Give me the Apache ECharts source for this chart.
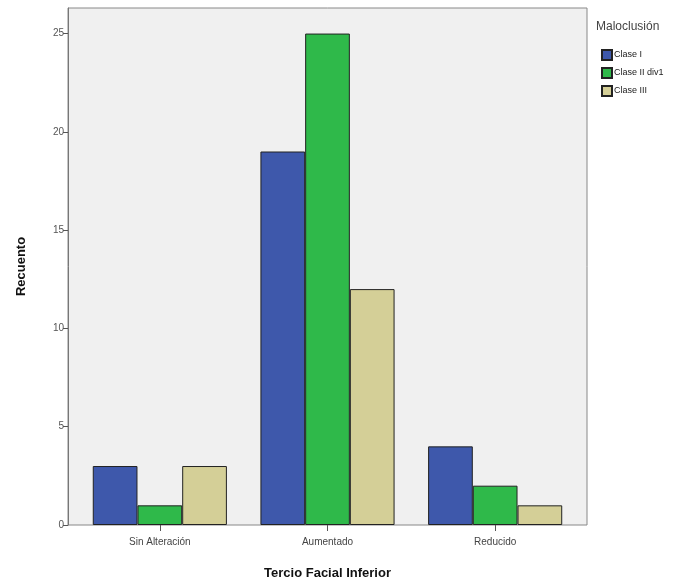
<!DOCTYPE html>
<html>
<head>
    <meta charset="utf-8">
    <title>Tercio Facial Inferior</title>
    <script src="https://cdn.jsdelivr.net/npm/echarts@6/dist/echarts.min.js"></script>
    <style>
        body { margin: 0; background: #fff; }
    </style>
</head>
<body>
    <div id="chart" style="width: 686px;height:582px;"></div>
    <script type="text/javascript">
        // datos
        var categorias = ['Sin Alteración', 'Aumentado', 'Reducido'];
        var claseI = [3, 19, 4];
        var claseIIdiv1 = [1, 25, 2];
        var claseIII = [3, 12, 1];
        var yTicks = [0, 5, 10, 15, 20, 25];

        var fuente = 'Liberation Sans, Arial, sans-serif';
        var chart = echarts.init(document.getElementById('chart'));

        function serie(nombre, datos, color) {
            return {
                name: nombre,
                type: 'bar',
                xAxisIndex: 0,
                yAxisIndex: 0,
                data: datos,
                barGap: 0,
                barCategoryGap: '20%',
                itemStyle: { color: color, borderColor: '#222', borderWidth: 1 },
                emphasis: { disabled: true }
            };
        }

        chart.setOption({
            animation: false,
            textStyle: { fontFamily: fuente },
            title: {
                text: 'Maloclusión',
                left: 591,
                top: 16,
                textStyle: { fontSize: 12, fontWeight: 'normal', color: '#444', fontFamily: fuente }
            },
            legend: {
                orient: 'vertical',
                left: 596,
                top: 44,
                itemWidth: 10,
                itemHeight: 10,
                itemGap: 6,
                icon: 'rect',
                textStyle: { fontSize: 9, color: '#222', padding: [0, 0, 0, -3] },
                data: ['Clase I', 'Clase II div1', 'Clase III']
            },
            grid: [
                // barras
                { left: 76, top: 8, width: 503, height: 517, show: false, outerBoundsMode: 'none' },
                // fondo del area de trazado
                { left: 68, top: 8, width: 519, height: 517, show: true, outerBoundsMode: 'none',
                  backgroundColor: '#f0f0f0', borderColor: '#888', borderWidth: 1, z: 0 }
            ],
            xAxis: [
                {
                    type: 'category',
                    gridIndex: 0,
                    data: categorias,
                    name: 'Tercio Facial Inferior',
                    nameLocation: 'middle',
                    nameGap: 42,
                    nameTextStyle: { fontSize: 13, fontWeight: 'bold', color: '#111' },
                    axisLine: { show: false },
                    axisTick: { show: true, alignWithLabel: true, length: 6, lineStyle: { color: '#555' } },
                    axisLabel: { fontSize: 10, color: '#444', margin: 12 },
                    splitLine: { show: false }
                },
                {
                    type: 'value',
                    gridIndex: 1,
                    show: false
                }
            ],
            yAxis: [
                {
                    type: 'value',
                    gridIndex: 0,
                    min: 0,
                    max: 26.3,
                    show: false
                },
                {
                    type: 'value',
                    gridIndex: 1,
                    min: 0,
                    max: 26.3,
                    name: 'Recuento',
                    nameLocation: 'middle',
                    nameGap: 40,
                    nameRotate: 90,
                    nameTextStyle: { fontSize: 13, fontWeight: 'bold', color: '#111' },
                    axisLine: { show: true, lineStyle: { color: '#777', width: 1 } },
                    axisTick: { show: true, length: 5, customValues: yTicks, lineStyle: { color: '#555' } },
                    axisLabel: { fontSize: 10, color: '#555', margin: 4, customValues: yTicks },
                    splitLine: { show: false }
                }
            ],
            series: [
                serie('Clase I', claseI, '#3e58ab'),
                serie('Clase II div1', claseIIdiv1, '#2fb94a'),
                serie('Clase III', claseIII, '#d4cf97')
            ]
        });
    </script>
</body>
</html>
